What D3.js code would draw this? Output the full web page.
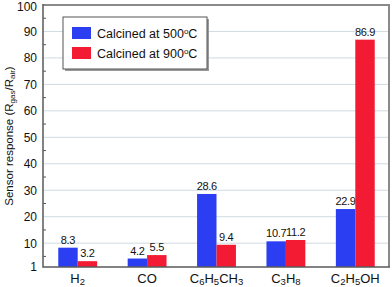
<!DOCTYPE html>
<html>
<head>
<meta charset="utf-8">
<script src="https://cdn.jsdelivr.net/npm/d3@7"></script>
<style>
  body { margin: 0; background: #fff; }
  svg { display: block; font-family: "Liberation Sans", Arial, sans-serif; }
</style>
</head>
<body>
<svg id="chart" width="392" height="287"></svg>
<script>
// gases, each label split into [text, subscript] pieces
const gases = ['H2', 'CO', 'C6H5CH3', 'C3H8', 'C2H5OH']
const gasParts = [
  [['H', 0], ['2', 1]],
  [['CO', 0]],
  [['C', 0], ['6', 1], ['H', 0], ['5', 1], ['CH', 0], ['3', 1]],
  [['C', 0], ['3', 1], ['H', 0], ['8', 1]],
  [['C', 0], ['2', 1], ['H', 0], ['5', 1], ['OH', 0]]
]
const series = ['500', '900']
const values500 = [8.3, 4.2, 28.6, 10.7, 22.9]
const values900 = [3.2, 5.5, 9.4, 11.2, 86.9]
const yTicks = [1, 10, 20, 30, 40, 50, 60, 70, 80, 90, 100]
const yMinor = [5, 15, 25, 35, 45, 55, 65, 75, 85, 95]
const colors = ['#2b3ef2', '#f31a33']

const margin = { left: 43, right: 2, top: 4, bottom: 20 }
const width = 392, height = 287
const svg = d3.select('#chart')

const y = d3.scaleLinear().domain([1, 100]).range([267, 5])
const x0 = d3.scaleBand().domain(gases).range([margin.left, width - margin.right])
  .paddingInner(0.44).paddingOuter(0.22)
const x1 = d3.scaleBand().domain(series).range([0, x0.bandwidth()])

// gridlines
svg.append('g').selectAll('line')
  .data(yTicks.filter(d => d > 1 && d < 100))
  .join('line')
  .attr('x1', margin.left).attr('x2', width - margin.right)
  .attr('y1', d => y(d)).attr('y2', d => y(d))
  .attr('stroke', '#cfdbe2').attr('stroke-width', 1)

// frame top/right
svg.append('path')
  .attr('d', `M${margin.left},${y(100)}H${width - margin.right - 1}V${y(1)}`)
  .attr('fill', 'none').attr('stroke', '#8a8a8a').attr('stroke-width', 2)

// bars
const groups = svg.append('g').selectAll('g')
  .data(gases)
  .join('g')
  .attr('transform', d => `translate(${x0(d)},0)`)

const rows = gases.map((g, i) => [values500[i], values900[i]])
groups.each(function (g, i) {
  const sel = d3.select(this)
  series.forEach((s, j) => {
    const v = rows[i][j]
    sel.append('rect')
      .attr('x', x1(s)).attr('width', x1.bandwidth())
      .attr('y', y(v)).attr('height', y(1) - y(v))
      .attr('fill', colors[j])
    sel.append('text')
      .attr('x', x1(s) + x1.bandwidth() / 2)
      .attr('y', y(v) - 4)
      .attr('text-anchor', 'middle')
      .attr('font-size', 11).attr('letter-spacing', -0.3).attr('fill', '#111')
      .text(v.toFixed(1))
  })
})

// y axis
const yAxis = svg.append('g')
  .attr('transform', `translate(${margin.left},0)`)
  .call(d3.axisLeft(y).tickValues(yTicks).tickSize(0).tickPadding(6))
yAxis.select('.domain').remove()
yAxis.selectAll('text').attr('font-size', 12).attr('fill', '#111')
  .attr('font-family', '"Liberation Sans", Arial, sans-serif')
yAxis.selectAll('text').filter(d => d === 100).attr('dy', '0.45em')

svg.append('g').selectAll('line')
  .data(yMinor)
  .join('line')
  .attr('x1', margin.left).attr('x2', margin.left + 3)
  .attr('y1', d => y(d)).attr('y2', d => y(d))
  .attr('stroke', '#555')

// left and bottom axis lines
svg.append('path')
  .attr('d', `M${margin.left},${y(100) - 1}V${y(1)}H${width - margin.right}`)
  .attr('fill', 'none').attr('stroke', '#5a5a5a').attr('stroke-width', 1.5)

// x labels with subscripts
const xl = svg.append('g').selectAll('text')
  .data(gases)
  .join('text')
  .attr('x', d => x0(d) + x0.bandwidth() / 2)
  .attr('y', 283)
  .attr('text-anchor', 'middle')
  .attr('font-size', 13).attr('fill', '#111')
xl.each(function (g, i) {
  const t = d3.select(this)
  gasParts[i].forEach(p => {
    t.append('tspan')
      .attr('font-size', p[1] ? 9.5 : 13)
      .attr('baseline-shift', p[1] ? '-2' : null)
      .text(p[0])
  })
})

// y title
const yt = svg.append('text')
  .attr('transform', 'translate(13,136) rotate(-90)')
  .attr('text-anchor', 'middle')
  .attr('font-size', 11.5).attr('fill', '#111')
yt.append('tspan').text('Sensor response (R')
yt.append('tspan').attr('font-size', 8).attr('baseline-shift', '-2').text('gas')
yt.append('tspan').text('/R')
yt.append('tspan').attr('font-size', 8).attr('baseline-shift', '-2').text('air')
yt.append('tspan').text(')')

// legend
const lg = svg.append('g').attr('transform', 'translate(63,17)')
lg.append('rect').attr('x', 2).attr('y', 2).attr('width', 144).attr('height', 52)
  .attr('fill', '#9a9a9a')
lg.append('rect').attr('x', 0).attr('y', 0).attr('width', 144).attr('height', 52)
  .attr('fill', '#fff').attr('stroke', '#555').attr('stroke-width', 1)
series.forEach((s, j) => {
  lg.append('rect').attr('x', 9).attr('y', 10 + j * 20).attr('width', 19).attr('height', 12)
    .attr('fill', colors[j])
  const t = lg.append('text').attr('x', 34).attr('y', 21 + j * 20)
    .attr('font-size', 12.5).attr('fill', '#111')
  t.append('tspan').text(`Calcined at ${s}`)
  t.append('tspan').attr('font-size', 8).attr('baseline-shift', '4').text('o')
  t.append('tspan').text('C')
})
</script>
</body>
</html>
